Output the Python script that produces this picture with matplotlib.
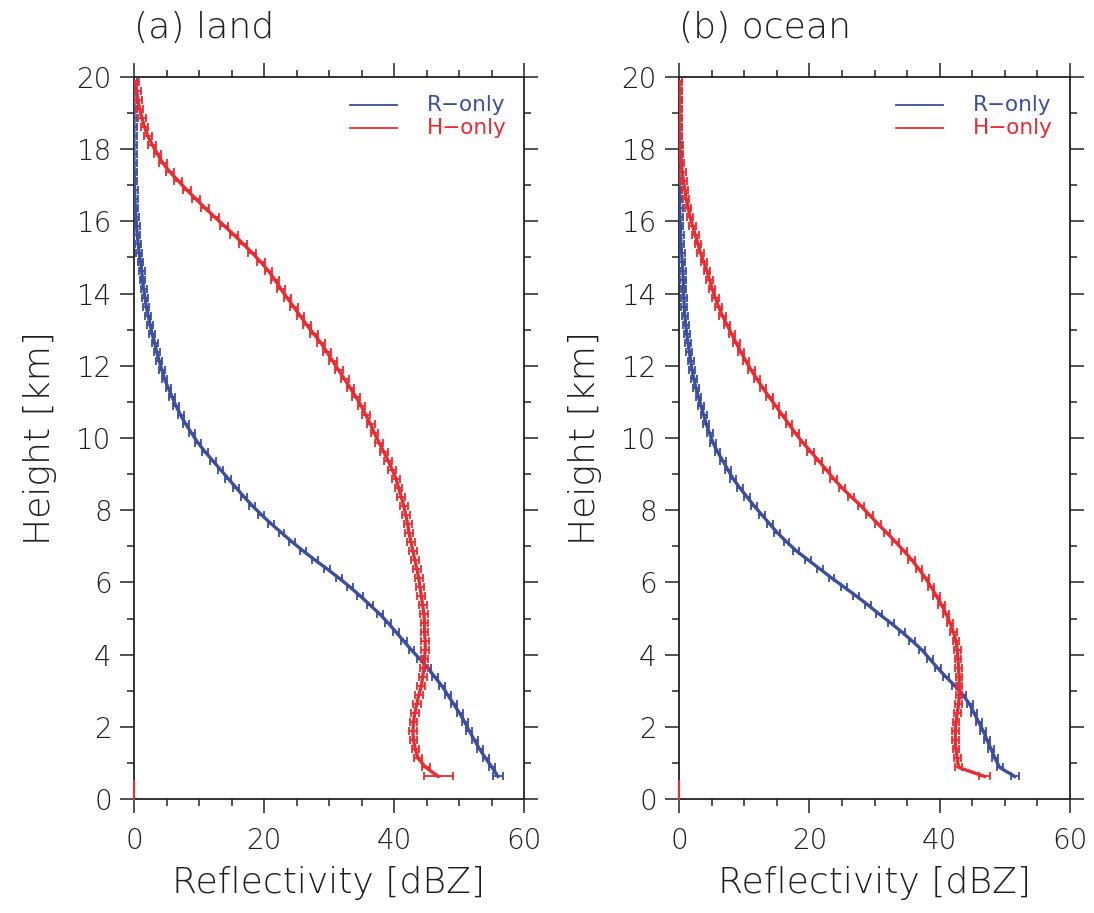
import numpy as np
import matplotlib
matplotlib.use("Agg")
import matplotlib.pyplot as plt
from matplotlib.ticker import MultipleLocator

# ---------------- data ----------------
heights = np.arange(0.625, 20.0, 0.25)  # km, 250 m levels

land_h_only = [
    46.8, 44.9, 43.7, 43.3, 43.0, 42.9, 43.0, 43.2, 43.5, 43.8,
    44.2, 44.4, 44.6, 44.7, 44.8, 44.8, 44.7, 44.7, 44.6, 44.4,
    44.2, 44.0, 43.8, 43.5, 43.2, 42.9, 42.6, 42.3, 42.1, 41.8,
    41.5, 41.1, 40.7, 40.3, 39.7, 39.1, 38.4, 37.7, 37.0, 36.4,
    35.7, 35.0, 34.2, 33.3, 32.4, 31.5, 30.6, 29.7, 28.8, 27.7,
    26.6, 25.6, 24.6, 23.6, 22.6, 21.7, 20.7, 19.5, 18.2, 16.8,
    15.4, 13.9, 12.4, 10.9, 9.5, 8.1, 6.8, 5.5, 4.4, 3.6,
    2.8, 2.1, 1.6, 1.2, 0.85, 0.6, 0.4, 0.2,
]
land_r_only = [
    56.0, 55.1, 54.1, 53.2, 52.4, 51.6, 50.9, 50.1, 49.2, 48.3,
    47.4, 46.3, 45.2, 44.0, 42.7, 41.5, 40.3, 39.1, 37.8, 36.3,
    34.8, 33.2, 31.5, 29.7, 27.8, 26.0, 24.3, 22.7, 21.1, 19.6,
    18.2, 16.9, 15.7, 14.5, 13.3, 12.1, 10.9, 9.8, 8.9, 8.0,
    7.2, 6.5, 5.9, 5.3, 4.7, 4.3, 3.9, 3.5, 3.2, 2.8,
    2.5, 2.2, 1.9, 1.7, 1.5, 1.3, 1.2, 1.0, 0.8, 0.65,
    0.5, 0.4, 0.3, 0.2, 0.15, 0.1, 0.05, 0.03, 0.0, 0.0,
    0.0, 0.0, 0.0, 0.0, 0.0, 0.0, 0.0, 0.0,
]
ocean_h_only = [
    46.9, 42.9, 42.7, 42.5, 42.4, 42.4, 42.5, 42.7, 42.9, 43.0,
    43.0, 43.0, 42.9, 42.8, 42.7, 42.5, 42.1, 41.6, 41.0, 40.3,
    39.5, 38.7, 37.8, 36.8, 35.7, 34.5, 33.2, 31.9, 30.5, 29.2,
    27.9, 26.4, 25.0, 23.7, 22.6, 21.4, 20.2, 19.0, 17.9, 16.9,
    15.9, 14.9, 13.9, 12.9, 12.0, 11.1, 10.3, 9.5, 8.8, 8.1,
    7.4, 6.7, 6.1, 5.6, 5.1, 4.7, 4.3, 3.8, 3.3, 2.9,
    2.5, 2.1, 1.7, 1.4, 1.1, 0.9, 0.7, 0.5, 0.3, 0.15,
    0.08, 0.0, 0.0, 0.0, 0.0, 0.0, 0.0, 0.0,
]
ocean_r_only = [
    51.5, 49.2, 48.5, 47.9, 47.3, 46.7, 46.0, 45.3, 44.6, 43.6,
    42.4, 41.0, 39.7, 38.5, 37.3, 35.8, 34.2, 32.5, 30.7, 29.0,
    27.2, 25.3, 23.4, 21.6, 19.8, 18.0, 16.5, 15.1, 13.9, 12.7,
    11.5, 10.4, 9.3, 8.3, 7.5, 6.7, 5.9, 5.2, 4.7, 4.2,
    3.8, 3.4, 3.0, 2.6, 2.3, 2.0, 1.8, 1.6, 1.4, 1.2,
    1.05, 0.9, 0.8, 0.75, 0.7, 0.65, 0.6, 0.5, 0.4, 0.3,
    0.25, 0.2, 0.15, 0.1, 0.07, 0.05, 0.03, 0.0, 0.0, 0.0,
    0.0, 0.0, 0.0, 0.0, 0.0, 0.0, 0.0, 0.0,
]

# error-bar half widths (dBZ): lowest levels listed, then a typical value
land_h_err_low, land_h_err_typ = [2.25, 0.6], 0.6
land_r_err_low, land_r_err_typ = [0.8], 0.45
ocean_h_err_low, ocean_h_err_typ = [0.9], 0.5
ocean_r_err_low, ocean_r_err_typ = [0.6], 0.45

# near-surface levels (zero values)
surface_h = [0.0, 0.5]
surface_v = [0.0, 0.0]

panel_titles = ["(a) land", "(b) ocean"]
series_labels = ["R\u2212only", "H\u2212only"]

BLUE = "#3a4ea2"
RED = "#ee2a2e"


def make_err(low, typ, n):
    e = np.full(n, typ)
    e[:len(low)] = low
    return e


plt.rcParams["font.family"] = ["DejaVu Sans"]
plt.rcParams["font.weight"] = "light"
TXT = "#1e1e1e"

fig = plt.figure(figsize=(10.94, 9.13), dpi=100)

W, H = 1094, 913
axes_px = [(134, 77, 524, 799), (679, 77, 1070, 799)]

panels = [
    (land_r_only, land_r_err_low, land_r_err_typ, land_h_only, land_h_err_low, land_h_err_typ),
    (ocean_r_only, ocean_r_err_low, ocean_r_err_typ, ocean_h_only, ocean_h_err_low, ocean_h_err_typ),
]

for i, (px, pan) in enumerate(zip(axes_px, panels)):
    l, t, r, b = px
    ax = fig.add_axes([l / W, 1 - b / H, (r - l) / W, (b - t) / H])
    r_vals, r_low, r_typ, h_vals, h_low, h_typ = pan
    n = len(heights)
    ax.errorbar(r_vals, heights, xerr=make_err(r_low, r_typ, n), color=BLUE,
                lw=2.4, elinewidth=1.3, capsize=3.0, capthick=1.3, zorder=3)
    ax.errorbar(h_vals, heights, xerr=make_err(h_low, h_typ, n), color=RED,
                lw=2.4, elinewidth=1.3, capsize=3.0, capthick=1.3, zorder=4)
    ax.plot(surface_v, surface_h, color=RED, lw=1.5, zorder=4, clip_on=False)

    ax.set_xlim(0, 60)
    ax.set_ylim(0, 20)
    ax.xaxis.set_major_locator(MultipleLocator(20))
    ax.xaxis.set_minor_locator(MultipleLocator(5))
    ax.yaxis.set_major_locator(MultipleLocator(2))
    ax.yaxis.set_minor_locator(MultipleLocator(1))
    ax.tick_params(which="both", direction="out", top=True, right=True,
                   width=1.1, color="#222222")
    ax.tick_params(which="major", length=10, labelsize=20)
    ax.tick_params(which="minor", length=5)
    ax.tick_params(axis="x", which="major", pad=10, labelcolor=TXT)
    ax.tick_params(axis="y", which="major", pad=6, labelcolor=TXT)
    for lab in ax.get_xticklabels() + ax.get_yticklabels():
        lab.set_fontweight("light")
    for sp in ax.spines.values():
        sp.set_linewidth(1.3)
        sp.set_color("#222222")

    ax.set_xlabel("Reflectivity [dBZ]", fontsize=26, color=TXT, labelpad=8,
                  fontweight="light")
    ax.set_ylabel("Height [km]", fontsize=26, color=TXT, labelpad=14,
                  fontweight="light")
    ax.text(0.0, 1.054, panel_titles[i], transform=ax.transAxes, fontsize=26,
            color=TXT, ha="left", va="baseline", fontweight="light")

    # legend
    for j, (lab, col) in enumerate(zip(series_labels, [BLUE, RED])):
        yy = 0.961 - j * 0.032
        ax.plot([0.554, 0.674], [yy, yy], transform=ax.transAxes, color=col, lw=1.3)
        ax.text(0.751, yy, lab, transform=ax.transAxes, color=col, fontsize=15.5,
                ha="left", va="center", fontweight="normal")

fig.savefig("out.png", dpi=100, facecolor="white")
